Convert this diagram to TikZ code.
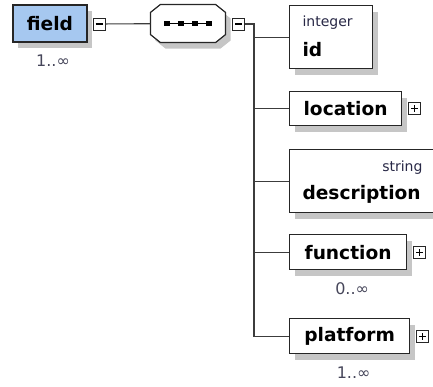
\documentclass[tikz,border=0pt]{standalone}
\usepackage{fontspec}
\setmainfont{DejaVu Sans}
\usetikzlibrary{shadows, positioning}
\definecolor{fieldblue}{RGB}{166,200,240}
\definecolor{shadowgray}{RGB}{198,198,198}
\definecolor{linegray}{RGB}{60,60,60}
\definecolor{typenavy}{RGB}{40,40,70}
\definecolor{multgray}{RGB}{70,70,90}

\begin{document}
\begin{tikzpicture}[x=1pt, y=-1pt, line width=1.1pt, draw=linegray,
    boxshadow/.style={drop shadow={shadow xshift=5pt, shadow yshift=-6pt, fill=shadowgray, opacity=1}},
    elem/.style={draw=black!85, fill=white, line width=1.2pt, minimum height=35pt, inner sep=0pt, boxshadow, font=\fontsize{18.6}{20}\selectfont\bfseries},
    typ/.style={inner sep=0pt, text=typenavy, font=\fontsize{14}{16}\selectfont},
    nm/.style={inner sep=0pt, font=\fontsize{18.6}{20}\selectfont\bfseries},
    mult/.style={inner sep=0pt, text=multgray, font=\fontsize{16}{18}\selectfont},
    seqbox/.style={draw=none, minimum width=74pt, minimum height=37pt, inner sep=0pt},
    seqline/.style={draw=black!85, fill=white, line width=1.2pt, boxshadow},
    pm/.style={draw=black!85, fill=white, line width=0.9pt, minimum size=12pt, inner sep=0pt},
    minus/.style={pm, path picture={
        \draw[black, line width=1.1pt] ([xshift=-3.5pt]path picture bounding box.center) -- ([xshift=3.5pt]path picture bounding box.center);}},
    plus/.style={pm, path picture={
        \draw[black, line width=1.1pt] ([xshift=-3.5pt]path picture bounding box.center) -- ([xshift=3.5pt]path picture bounding box.center);
        \draw[black, line width=1.1pt] ([yshift=-3.5pt]path picture bounding box.center) -- ([yshift=3.5pt]path picture bounding box.center);}}]

    \useasboundingbox (0,0) rectangle (433,387);
    \clip (0,0) rectangle (433,387);

    \node[elem, fill=fieldblue, minimum width=74pt, minimum height=37pt] (field) at (50,23.5) {field};
    \node[minus] (fieldpm) at (99,24) {};
    \node[mult, below=12pt of field, xshift=3pt] (fieldmult) {1..∞};

    \node[seqbox] (seq) at (188,23.5) {};
    \path[seqline] ([xshift=10pt]seq.north west) -- ([xshift=-10pt]seq.north east)
        -- ([yshift=-8pt]seq.north east) -- ([yshift=8pt]seq.south east)
        -- ([xshift=-10pt]seq.south east) -- ([xshift=10pt]seq.south west)
        -- ([yshift=8pt]seq.south west) -- ([yshift=-8pt]seq.north west) -- cycle;
    \draw[black, line width=1.8pt] ([xshift=-22pt]seq.center) -- ([xshift=22pt]seq.center);
    \foreach \d in {-21,-7,7,21}
        \fill[black] ([shift={(\d pt-2.8pt,-2.8pt)}]seq.center) rectangle +(5.6pt,5.6pt);
    \node[minus] (seqpm) at (238.5,24) {};
    \coordinate (bus) at (254,24);

    \node[elem, anchor=north west, minimum width=83pt, minimum height=63pt] (id) at (289,5) {};
    \node[typ, anchor=base west] (idtype) at ([shift={(13,22)}]id.north west) {integer};
    \node[nm, anchor=base west] (idname) at ([shift={(13,52)}]id.north west) {id};

    \node[elem, anchor=north west, minimum width=112pt, minimum height=34pt] (location) at (289,91) {location};
    \node[plus, right=6pt of location] (locationpm) {};

    \node[elem, anchor=north west, minimum width=146pt, minimum height=63pt] (description) at (289,149) {};
    \node[typ, anchor=base east] (desctype) at (423,172) {string};
    \node[nm, anchor=base west] (descname) at (302,200) {description};

    \node[elem, anchor=north west, minimum width=117pt] (function) at (289,234) {function};
    \node[plus, right=6pt of function] (functionpm) {};
    \node[mult, below=12pt of function, xshift=4pt] (functionmult) {0..∞};

    \node[elem, anchor=north west, minimum width=120pt] (platform) at (289,318) {platform};
    \node[plus, right=6pt of platform] (platformpm) {};
    \node[mult, below=12pt of platform, xshift=4pt] (platformmult) {1..∞};

    \draw (fieldpm) -- (seq);
    \draw (seqpm) -- (bus) -- (bus |- platform.west) -- (platform.west);
    \draw (bus |- id.west) -- (id.west);
    \draw (bus |- location.west) -- (location.west);
    \draw (bus |- description.west) -- (description.west);
    \draw (bus |- function.west) -- (function.west);

\end{tikzpicture}
\end{document}
